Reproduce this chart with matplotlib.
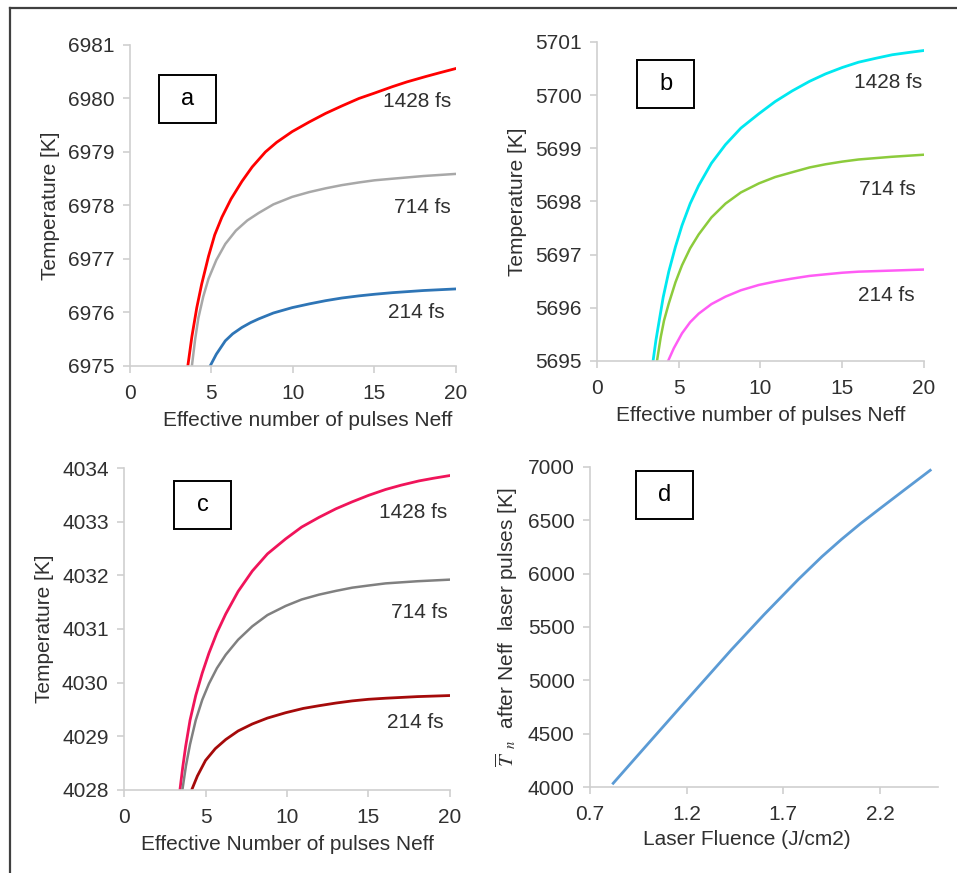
import numpy as np
import matplotlib
matplotlib.use("Agg")
import matplotlib.pyplot as plt
from matplotlib.patches import Rectangle
from matplotlib.lines import Line2D

plt.rcParams['font.family'] = ['Liberation Sans', 'DejaVu Sans']
plt.rcParams['mathtext.fontset'] = 'stix'

# ---- panel a ----
a_x_1428 = [3.55, 3.8, 4.1, 4.4, 4.82, 5.2, 5.64, 6.2, 6.87, 7.5, 8.31, 9.0, 9.95,
            11.0, 12.0, 13.0, 14.05, 15.0, 16.1, 17.0, 18.15, 19.0, 20.0]
a_y_1428 = [6975.0, 6975.55, 6976.09, 6976.53, 6977.05, 6977.45, 6977.78, 6978.12, 6978.45,
            6978.72, 6979.0, 6979.18, 6979.38, 6979.56, 6979.72, 6979.86, 6980.0, 6980.1,
            6980.22, 6980.31, 6980.41, 6980.48, 6980.56]
a_x_714 = [3.8, 4.0, 4.2, 4.5, 4.82, 5.3, 5.85, 6.5, 7.2, 7.9, 8.8, 9.95, 11.0, 12.0,
           13.0, 14.05, 15.0, 16.1, 18.0, 20.0]
a_y_714 = [6975.0, 6975.5, 6975.9, 6976.3, 6976.63, 6976.98, 6977.28, 6977.53, 6977.72,
           6977.86, 6978.02, 6978.16, 6978.25, 6978.32, 6978.38, 6978.43, 6978.47, 6978.5,
           6978.55, 6978.59]
a_x_214 = [4.92, 5.3, 5.85, 6.3, 6.87, 7.4, 7.9, 8.8, 9.95, 11.0, 12.0, 13.0, 14.05,
           15.0, 16.1, 18.0, 20.0]
a_y_214 = [6975.0, 6975.22, 6975.47, 6975.6, 6975.72, 6975.81, 6975.88, 6975.99, 6976.09,
           6976.16, 6976.22, 6976.27, 6976.31, 6976.34, 6976.37, 6976.41, 6976.44]

# ---- panel b ----
b_x_1428 = [3.43, 3.6, 3.78, 4.05, 4.39, 4.8, 5.2, 5.7, 6.22, 7.0, 7.86, 8.8, 9.9, 10.9,
            11.94, 13.0, 13.98, 15.0, 16.0, 17.0, 18.06, 19.0, 20.0]
b_y_1428 = [5695.0, 5695.38, 5695.71, 5696.2, 5696.68, 5697.15, 5697.55, 5697.96, 5698.3,
            5698.72, 5699.07, 5699.38, 5699.65, 5699.88, 5700.08, 5700.26, 5700.4, 5700.52,
            5700.62, 5700.69, 5700.76, 5700.8, 5700.84]
b_x_714 = [3.67, 3.9, 4.1, 4.39, 4.8, 5.2, 5.7, 6.22, 7.0, 7.86, 8.8, 9.9, 10.9, 11.94,
           13.0, 13.98, 15.0, 16.0, 18.0, 20.0]
b_y_714 = [5695.0, 5695.45, 5695.76, 5696.08, 5696.48, 5696.8, 5697.12, 5697.38, 5697.7,
           5697.96, 5698.17, 5698.34, 5698.46, 5698.55, 5698.64, 5698.7, 5698.75, 5698.79,
           5698.84, 5698.88]
b_x_214 = [4.35, 4.7, 5.2, 5.7, 6.22, 7.0, 7.86, 8.8, 9.9, 11.0, 11.94, 13.0, 13.98,
           15.0, 16.0, 18.0, 20.0]
b_y_214 = [5695.0, 5695.24, 5695.52, 5695.73, 5695.89, 5696.07, 5696.21, 5696.33, 5696.43,
           5696.5, 5696.55, 5696.6, 5696.63, 5696.66, 5696.68, 5696.7, 5696.72]

# ---- panel c ----
c_x_1428 = [3.43, 3.6, 3.78, 4.05, 4.4, 4.8, 5.21, 5.7, 6.24, 7.0, 7.87, 8.8, 9.92, 10.9,
            11.96, 13.0, 14.0, 15.0, 16.05, 17.0, 18.1, 19.0, 20.0]
c_y_1428 = [4028.0, 4028.42, 4028.81, 4029.3, 4029.76, 4030.18, 4030.55, 4030.93, 4031.28,
            4031.7, 4032.08, 4032.4, 4032.68, 4032.9, 4033.08, 4033.24, 4033.37, 4033.49,
            4033.6, 4033.68, 4033.76, 4033.81, 4033.86]
c_x_714 = [3.58, 3.8, 4.05, 4.4, 4.8, 5.21, 5.7, 6.24, 7.0, 7.87, 8.8, 9.92, 10.9, 11.96,
           13.0, 14.0, 15.0, 16.05, 18.0, 20.0]
c_y_714 = [4028.0, 4028.45, 4028.85, 4029.3, 4029.68, 4029.98, 4030.27, 4030.52, 4030.8,
           4031.05, 4031.26, 4031.43, 4031.55, 4031.64, 4031.71, 4031.77, 4031.81, 4031.85,
           4031.89, 4031.92]
c_x_214 = [4.15, 4.5, 5.0, 5.6, 6.24, 7.0, 7.87, 8.8, 9.92, 11.0, 11.96, 13.0, 14.0,
           15.0, 16.05, 18.0, 20.0]
c_y_214 = [4028.0, 4028.26, 4028.55, 4028.77, 4028.94, 4029.1, 4029.23, 4029.34, 4029.44,
           4029.52, 4029.57, 4029.62, 4029.66, 4029.69, 4029.71, 4029.74, 4029.76]

# ---- panel d ----
d_fluence = [0.82, 1.0, 1.2, 1.43, 1.6, 1.78, 1.9, 2.0, 2.1, 2.2, 2.33, 2.46]
d_temp = [4035, 4405, 4815, 5284, 5615, 5950, 6160, 6320, 6470, 6610, 6790, 6969]

pulse_labels = ["1428 fs", "714 fs", "214 fs"]

fig = plt.figure(figsize=(9.57, 8.73), dpi=100)
fig.patch.set_facecolor("white")

txt_col = "#303030"
ax_col = "#cfcfcf"
fs = 15


def style(ax):
    for s in ["top", "right"]:
        ax.spines[s].set_visible(False)
    for s in ["left", "bottom"]:
        ax.spines[s].set_color(ax_col)
        ax.spines[s].set_linewidth(1.2)
    ax.tick_params(colors=ax_col, labelcolor=txt_col, labelsize=fs,
                   length=5, width=1.2, direction="out")
    ax.tick_params(axis="y", pad=6)
    ax.tick_params(axis="x", pad=8)


def letter_box(ax, cx, cy, s):
    w, h = 57 / (ax.bbox.width), 48 / (ax.bbox.height)
    ax.add_patch(Rectangle((cx - w / 2, cy - h / 2), w, h, transform=ax.transAxes,
                           fill=False, edgecolor="black", linewidth=1.4, clip_on=False))
    ax.text(cx, cy, s, transform=ax.transAxes, ha="center", va="center",
            fontsize=17, color="black")


# panel a
ax = fig.add_axes([0.1358, 0.5808, 0.3406, 0.3677])
ax.plot(a_x_1428, a_y_1428, color="#FF0000", lw=2.0)
ax.plot(a_x_714, a_y_714, color="#A8A8A8", lw=1.8)
ax.plot(a_x_214, a_y_214, color="#2E75B6", lw=2.0)
ax.set_xlim(0, 20)
ax.set_ylim(6975, 6981)
ax.set_xticks([0, 5, 10, 15, 20])
ax.set_yticks(range(6975, 6982))
style(ax)
ax.set_xlabel("Effective number of pulses Neff", fontsize=fs, color=txt_col, x=0.545, labelpad=6)
ax.set_ylabel("Temperature [K]", fontsize=fs, color=txt_col, labelpad=6)
for (yy, xx), lab in zip([(6979.95, 19.7), (6977.97, 19.7), (6975.99, 19.3)], pulse_labels):
    ax.text(xx, yy, lab, ha="right", va="center", fontsize=fs, color=txt_col)
letter_box(ax, 0.176, 0.833, "a")

# panel b
ax = fig.add_axes([0.6238, 0.5865, 0.3417, 0.3654])
ax.plot(b_x_1428, b_y_1428, color="#00E8F0", lw=2.0)
ax.plot(b_x_714, b_y_714, color="#8CCB3C", lw=1.8)
ax.plot(b_x_214, b_y_214, color="#FF5CF5", lw=1.8)
ax.set_xlim(0, 20)
ax.set_ylim(5695, 5701)
ax.set_xticks([0, 5, 10, 15, 20])
ax.set_yticks(range(5695, 5702))
style(ax)
ax.set_xlabel("Effective number of pulses Neff", fontsize=fs, color=txt_col, labelpad=6)
ax.set_ylabel("Temperature [K]", fontsize=fs, color=txt_col, labelpad=6)
for (yy, xx), lab in zip([(5700.23, 19.9), (5698.22, 19.5), (5696.24, 19.4)], pulse_labels):
    ax.text(xx, yy, lab, ha="right", va="center", fontsize=fs, color=txt_col)
letter_box(ax, 0.211, 0.868, "b")

# panel c
ax = fig.add_axes([0.1296, 0.0951, 0.3406, 0.3688])
ax.plot(c_x_1428, c_y_1428, color="#F0145A", lw=2.0)
ax.plot(c_x_714, c_y_714, color="#808080", lw=1.8)
ax.plot(c_x_214, c_y_214, color="#A50A0A", lw=2.0)
ax.set_xlim(0, 20)
ax.set_ylim(4028, 4034)
ax.set_xticks([0, 5, 10, 15, 20])
ax.set_yticks(range(4028, 4035))
style(ax)
ax.set_xlabel("Effective Number of pulses Neff", fontsize=fs, color=txt_col, labelpad=6)
ax.set_ylabel("Temperature [K]", fontsize=fs, color=txt_col, labelpad=6)
for (yy, xx), lab in zip([(4033.18, 19.85), (4031.3, 19.85), (4029.25, 19.6)], pulse_labels):
    ax.text(xx, yy, lab, ha="right", va="center", fontsize=fs, color=txt_col)
letter_box(ax, 0.241, 0.885, "c")

# panel d
ax = fig.add_axes([0.6165, 0.0985, 0.3636, 0.3666])
ax.plot(d_fluence, d_temp, color="#5B9BD5", lw=2.0)
ax.set_xlim(0.7, 2.5)
ax.set_ylim(4000, 7000)
ax.set_xticks([0.7, 1.2, 1.7, 2.2])
ax.set_xticklabels(["0.7", "1.2", "1.7", "2.2"])
ax.set_yticks(range(4000, 7001, 500))
style(ax)
ax.set_xlabel("Laser Fluence (J/cm2)", fontsize=fs, color=txt_col, x=0.451, labelpad=4)
ax.set_ylabel(r"$\overline{T}_{\ \ n}$  after Neff  laser pulses [K]", fontsize=fs,
              color=txt_col, labelpad=6)
letter_box(ax, 0.214, 0.9125, "d")

# outer frame (left and top edges visible)
fig.add_artist(Line2D([10 / 957, 10 / 957], [0, 1 - 8 / 873], transform=fig.transFigure,
                      color="#404040", lw=1.6))
fig.add_artist(Line2D([10 / 957, 1], [1 - 8 / 873, 1 - 8 / 873], transform=fig.transFigure,
                      color="#404040", lw=1.6))

fig.savefig("out.png", dpi=100, facecolor="white")
